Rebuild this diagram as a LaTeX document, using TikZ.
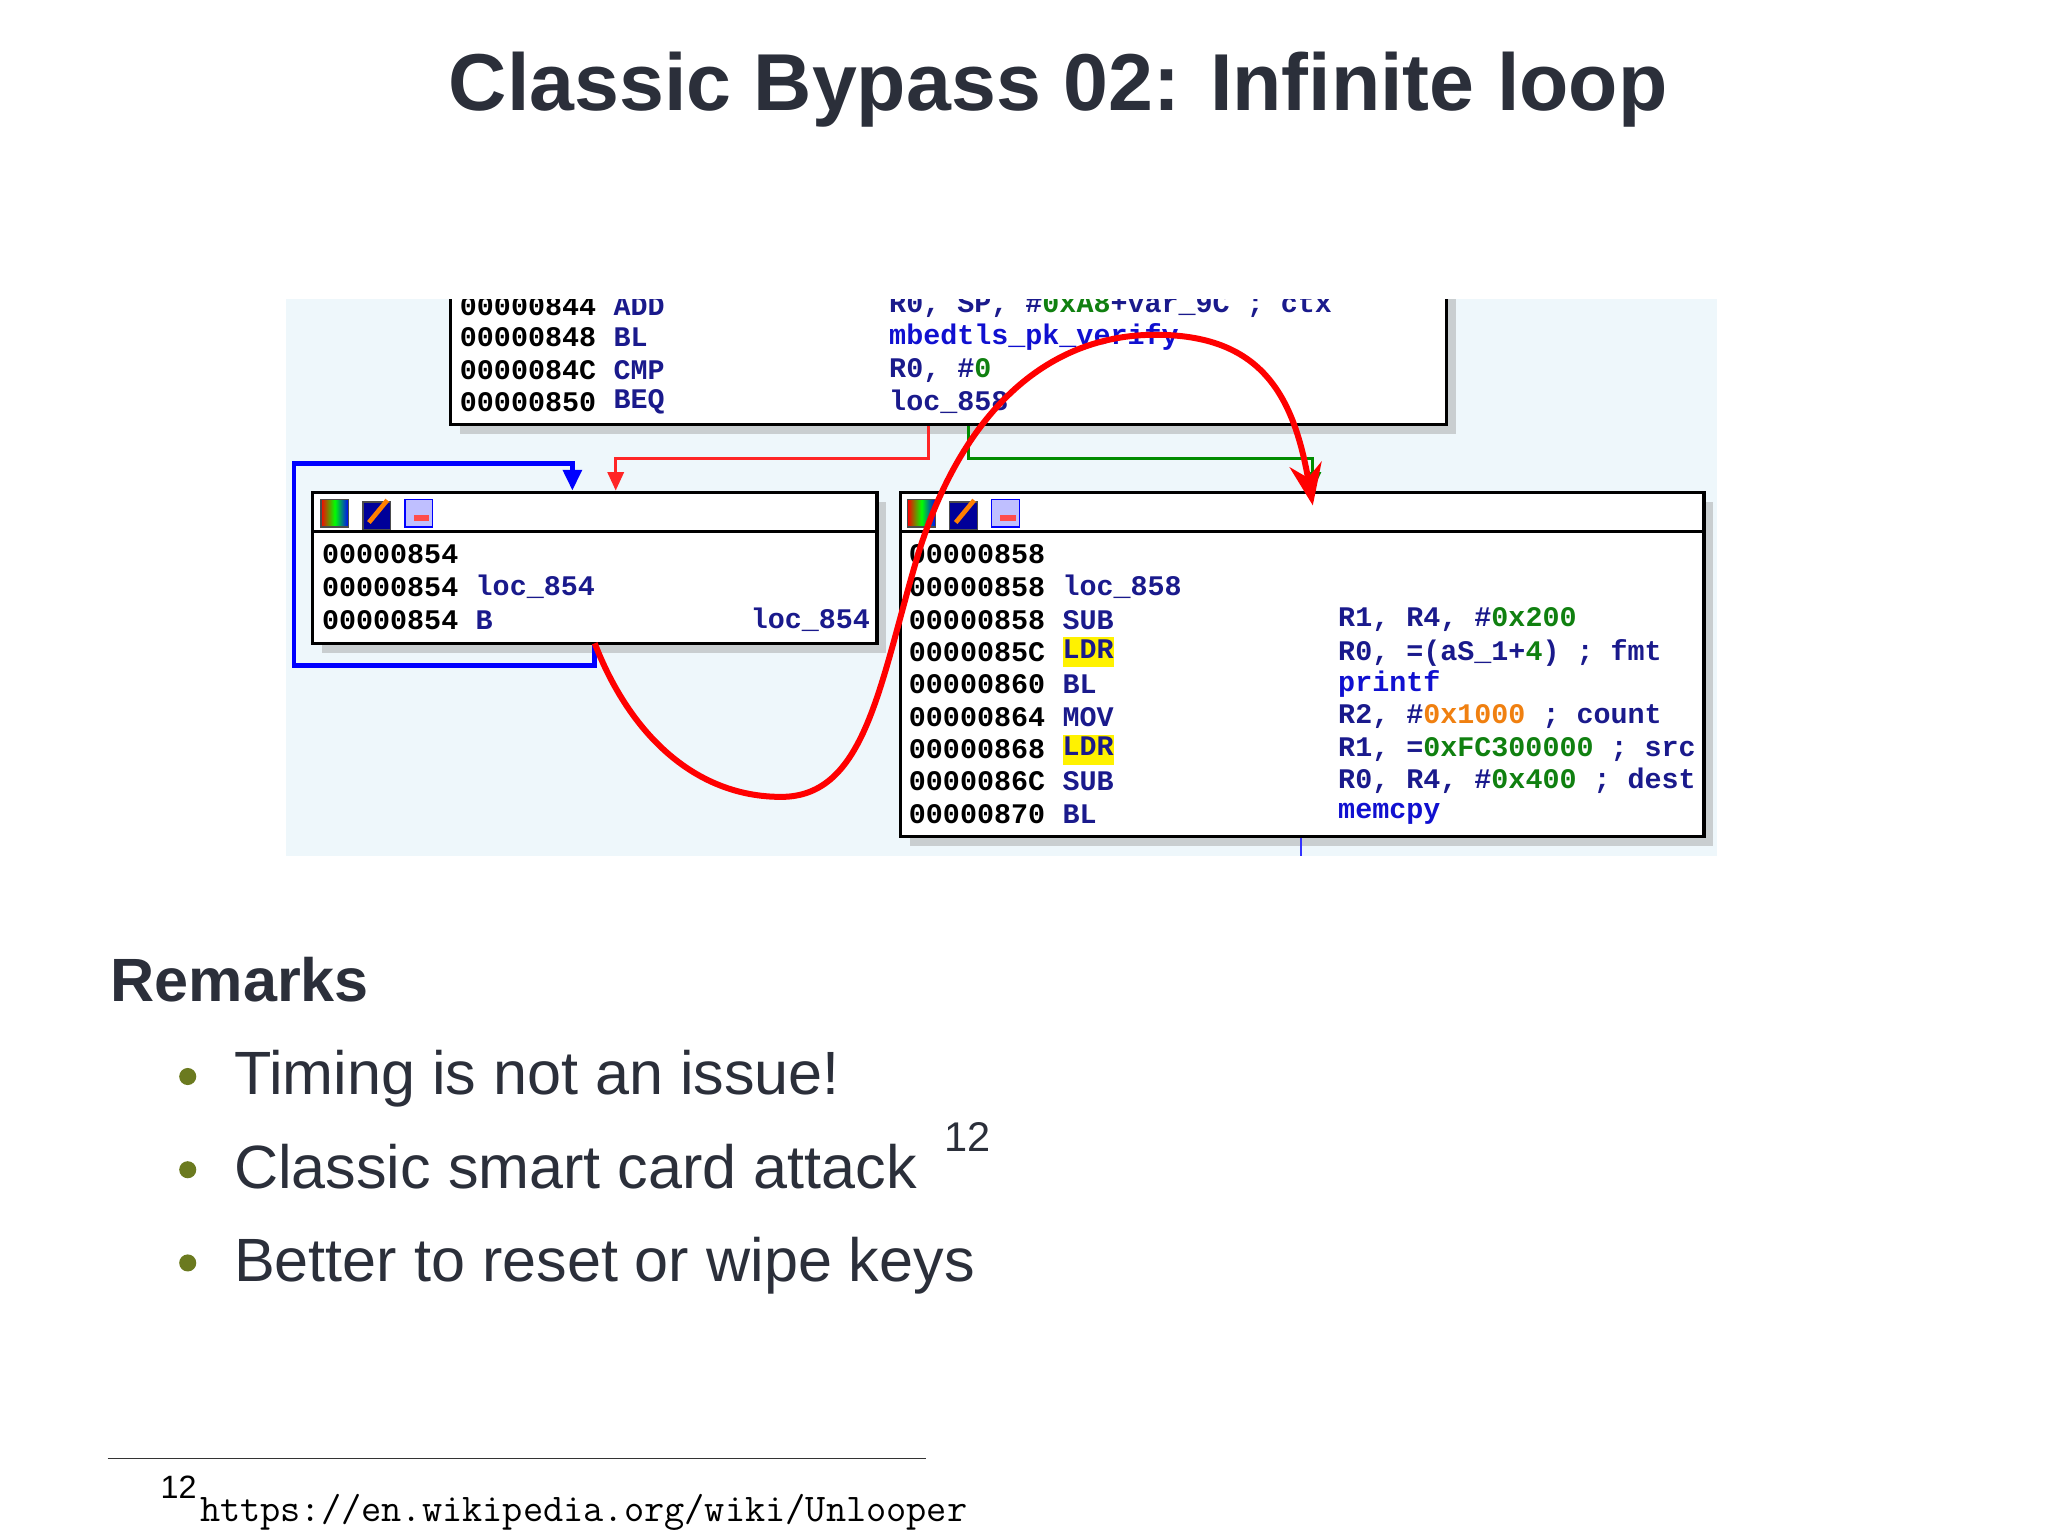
\documentclass[tikz,border=0pt]{standalone}
\usepackage{fontspec}
\setmainfont{Liberation Sans}
\newfontfamily\codefont{Liberation Mono}
\usetikzlibrary{arrows.meta,shadows}
\definecolor{titlec}{HTML}{2B2F3A}
\definecolor{bulc}{HTML}{6B7A1F}
\definecolor{scrbg}{HTML}{EEF7FB}
\definecolor{navy}{HTML}{1A1A8C}
\definecolor{opblue}{HTML}{1010D0}
\definecolor{gr}{HTML}{108010}
\definecolor{orng}{HTML}{F08010}
\tikzset{
  codebox/.style={draw=black,line width=1.5pt,fill=white,drop shadow={shadow xshift=4pt,shadow yshift=-4pt,fill=gray!70},inner sep=0},
  ln/.style={anchor=west,inner sep=0,font=\codefont\bfseries\fontsize{12.3}{13}\selectfont},
  bul/.style={anchor=base west,inner sep=0,font=\fontsize{26.5}{30}\selectfont,text=titlec},
  ico/.style={draw=black!70,line width=0.6pt,minimum size=12pt,inner sep=0},
}
\begin{document}
\begin{tikzpicture}[x=0.02cm,y=-0.02cm]
\useasboundingbox (0,0) rectangle (1560,1170);
\fill[white] (0,0) rectangle (1560,1170);
\node[font=\bfseries\fontsize{35}{38}\selectfont,text=titlec] (title) at (806,68) {Classic Bypass 02: Infinite loop};
% screenshot
\begin{scope}
\clip (218,228) rectangle (1308,652);
\fill[scrbg] (218,228) rectangle (1308,652);
% top box
\node[codebox,minimum width=759*0.02cm,minimum height=115*0.02cm] (top) at (722.5,266) {};
\foreach \y/\a/\m in {233/00000844/ADD,257/00000848/BL,282/0000084C/CMP,306/00000850/BEQ}{
  \node[ln,text=black] at (350,\y) {\a};
  \node[ln,text=navy] at (467,\y) {\m};}
\node[ln,text=navy] at (677,233) {R0, SP, \#\textcolor{gr}{0xA8}+var\_9C ; ctx};
\node[ln,text=opblue] at (677,257) {mbedtls\_pk\_verify};
\node[ln,text=navy] at (677,282) {R0, \#\textcolor{gr}{0}};
\node[ln,text=navy] at (677,306) {loc\_858};
% left box
\node[codebox,minimum width=430*0.02cm,minimum height=115*0.02cm] (lbox) at (453,432.5) {};
\draw[line width=1.2pt] (238,405) -- (668,405);
% right box
\node[codebox,minimum width=612*0.02cm,minimum height=262*0.02cm] (rbox) at (992,506) {};
\draw[line width=1.2pt] (686,405) -- (1298,405);
% icons
\foreach \x in {243,690}{
  \node[ico,shading=axis,left color=red,right color=blue,middle color=green] (i1\x) at (\x+12,391) {};
  \node[ico,fill=blue!60!black] (i2\x) at (\x+44,393) {};
  \draw[orange,line width=2pt] (\x+38,398) -- (\x+52,381);
  \node[ico,fill=blue!25,draw=blue] (i3\x) at (\x+76,391) {};
  \fill[red!70] (\x+72,392) rectangle (\x+84,397);
}
\foreach \y/\a/\m in {422/00000854/,447/00000854/loc\_854,472/00000854/B}{
  \node[ln,text=black] at (245,\y) {\a};
  \node[ln,text=navy] at (362,\y) {\m};}
\node[ln,text=navy,anchor=east] at (663,472) {loc\_854};
\foreach \y/\a/\m in {422/00000858/,447/00000858/loc\_858,472/00000858/SUB,497/0000085C/\colorbox{yellow}{\strut LDR},521/00000860/BL,546/00000864/MOV,571/00000868/\colorbox{yellow}{\strut LDR},595/0000086C/SUB,620/00000870/BL}{
  \node[ln,text=black] at (692,\y) {\a};
  \node[ln,text=navy,inner sep=0] at (809,\y) {\setlength{\fboxsep}{0pt}\m};}
\node[ln,text=navy] at (1019,472) {R1, R4, \#\textcolor{gr}{0x200}};
\node[ln,text=navy] at (1019,497) {R0, =(aS\_1+\textcolor{gr}{4}) ; fmt};
\node[ln,text=opblue] at (1019,521) {printf};
\node[ln,text=navy] at (1019,546) {R2, \#\textcolor{orng}{0x1000} ; count};
\node[ln,text=navy] at (1019,571) {R1, =\textcolor{gr}{0xFC300000} ; src};
\node[ln,text=navy] at (1019,595) {R0, R4, \#\textcolor{gr}{0x400} ; dest};
\node[ln,text=opblue] at (1019,620) {memcpy};
% thin edges
\draw[red!85,line width=1.2pt,-{Triangle[length=8pt,width=7pt]}] (top.south -| 707,0) -- (707,349) -- (469,349) -- (lbox.north -| 469,0);
\draw[green!55!black,line width=1.2pt,-{Triangle[length=8pt,width=7pt]}] (top.south -| 738,0) -- (738,349) -- (1000,349) -- (rbox.north -| 1000,0);
\draw[blue,line width=2pt,-{Triangle[length=9pt,width=8pt]}] (lbox.south -| 453,0) -- (453,507) -- (224,507) -- (224,353) -- (436,353) -- (lbox.north -| 436,0);
\draw[blue!80,line width=1pt] (rbox.south -| 991,0) -- (991,652);
% hand drawn red loop
\draw[red,line width=2.6pt,-{Stealth[length=18pt,width=14pt]}] (453,490) .. controls (480,560) and (530,607) .. (595,607)
  .. controls (660,607) and (670,520) .. (700,420)
  .. controls (735,310) and (800,255) .. (880,255)
  .. controls (960,255) and (985,300) .. (1000,385);
\end{scope}
% remarks
\node[anchor=west,inner sep=0,font=\bfseries\fontsize{26.5}{28}\selectfont,text=titlec] (rem) at (84,746) {Remarks};
\foreach \y/\t [count=\i] in {834/Timing is not an issue!,905/{Classic smart card attack \,\raisebox{0.6em}{\fontsize{18}{20}\selectfont 12}},976/Better to reset or wipe keys}{
  \fill[bulc] (143,\y-14) circle (6.5);
  \node[bul] (b\i) at (178,\y) {\t};}
\draw[line width=0.8pt,black!80] (82,1111) -- (705,1111);
\node[anchor=west,inner sep=0,font=\fontsize{14}{16}\selectfont] (fn) at (122,1133) {12};
\node[anchor=west,inner sep=0,font=\ttfamily\fontsize{17}{18}\selectfont] (url) at (152,1152) {https://en.wikipedia.org/wiki/Unlooper};
\end{tikzpicture}
\end{document}
